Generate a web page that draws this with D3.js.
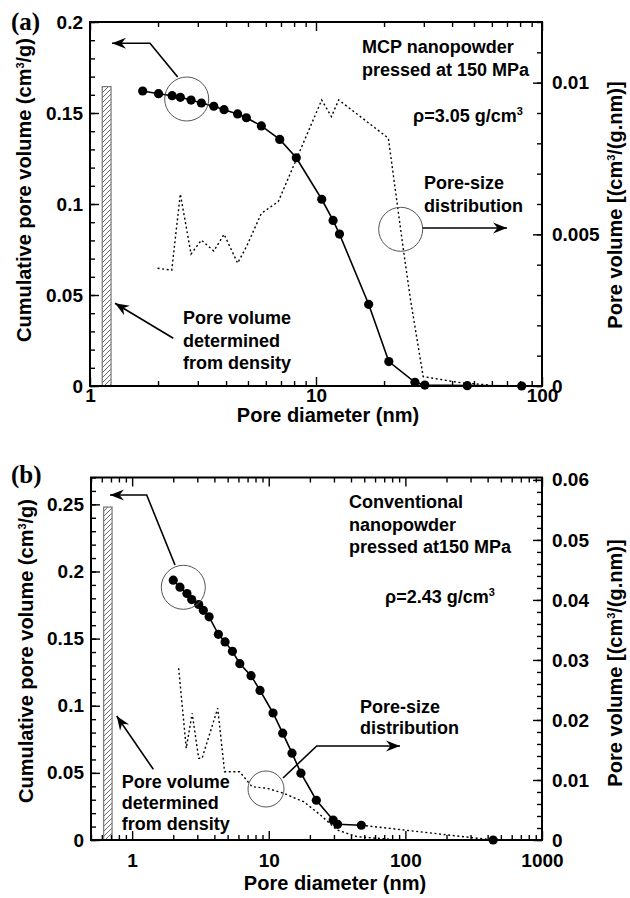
<!DOCTYPE html>
<html><head><meta charset="utf-8">
<script src="https://cdn.jsdelivr.net/npm/d3@7"></script>
<style>
body{margin:0;background:#fff}
svg{display:block}
text{font-family:"Liberation Sans",Arial,Helvetica,sans-serif;font-weight:bold;fill:#000}
.tick text{font-size:19px}
.title{font-size:20px}
.note{font-size:18px}
.plabel{font-family:"Liberation Serif","Times New Roman",serif;font-size:25px}
</style>
</head><body>
<svg id="chart" width="630" height="898"></svg>
<script>
// ---------- Panel (a): MCP nanopowder ----------
const aCumDiameter = [1.71,2.01,2.31,2.51,2.80,3.11,3.53,3.92,4.50,4.92,5.73,6.91,8.18,10.6,11.9,12.7,17.1,21.0,27.4,30.3,46.7,81.3];
const aCumVolume   = [0.1621,0.1606,0.1595,0.1586,0.1571,0.1555,0.1537,0.1518,0.1495,0.1474,0.1429,0.1355,0.1254,0.1026,0.0910,0.0835,0.0449,0.0134,0.0020,0.0005,0.0002,0];
const aPsdDiameter = [1.99,2.30,2.51,2.80,3.11,3.53,3.92,4.50,4.92,5.73,6.81,10.6,11.7,12.6,20.9,24.3,26.2,29.8,43.4,58.9];
const aPsdVolume   = [0.00388,0.00382,0.00633,0.00435,0.00481,0.00445,0.00500,0.00405,0.00459,0.00569,0.00608,0.00943,0.00888,0.00943,0.00817,0.00455,0.00284,0.00031,0.00011,0.00003];
const aDensityBarDiameter = [1.133,1.239];
const aDensityPoreVolume = 0.1645;
const aXTicks = [1,10,100];
const aLeftTicks = [0,0.05,0.1,0.15,0.2];
const aLeftTickLabels = ["0","0.05","0.1","0.15","0.2"];
const aRightTicks = [0,0.005,0.01];
const aRightTickLabels = ["0","0.005","0.01"];

// ---------- Panel (b): Conventional nanopowder ----------
const bCumDiameter = [2.00,2.24,2.52,2.73,3.07,3.32,3.66,4.28,4.79,5.42,6.14,7.42,8.63,10.75,12.65,14.8,17.2,22.3,29.6,31.9,47.6,439];
const bCumVolume   = [0.1935,0.1883,0.1836,0.1791,0.1754,0.1711,0.1662,0.1532,0.1475,0.1405,0.1313,0.1224,0.1114,0.0946,0.0796,0.0647,0.0498,0.0296,0.0149,0.0117,0.0110,0];
const bPsdDiameter = [2.19,2.49,2.75,3.07,3.25,4.23,4.75,6.12,7.55,9.71,12.85,18.0,23.9,31.6,44.3,77.6];
const bPsdVolume   = [0.02862,0.01528,0.02112,0.01362,0.01362,0.02195,0.01138,0.01138,0.00888,0.00862,0.00778,0.00638,0.00417,0.00167,0.00055,0.00012];
const bDensityBarDiameter = [0.619,0.713];
const bDensityPoreVolume = 0.248;
const bXTicks = [1,10,100,1000];
const bLeftTicks = [0,0.05,0.1,0.15,0.2,0.25];
const bLeftTickLabels = ["0","0.05","0.1","0.15","0.2","0.25"];
const bRightTicks = [0,0.01,0.02,0.03,0.04,0.05,0.06];
const bRightTickLabels = ["0","0.01","0.02","0.03","0.04","0.05","0.06"];

const svg = d3.select("#chart");
const defs = svg.append("defs");
const pat = defs.append("pattern").attr("id","hatch").attr("patternUnits","userSpaceOnUse")
  .attr("width",5).attr("height",5);
pat.append("path").attr("d","M-1,1 l2,-2 M0,5 l5,-5 M4,6 l2,-2")
  .attr("stroke","#444").attr("stroke-width",0.8);
defs.append("marker").attr("id","arrow").attr("viewBox","-15 -7 16 14")
  .attr("refX",0).attr("refY",0).attr("markerWidth",16).attr("markerHeight",14)
  .attr("markerUnits","userSpaceOnUse").attr("orient","auto")
  .append("path").attr("d","M0,0 L-14,-5.5 L-9.5,0 L-14,5.5 Z").attr("fill","#000");

// text with optional superscript parts ({sup:"3"})
function richText(g, x, y, parts, cls, transform){
  const t = g.append("text").attr("class", cls);
  if (transform) t.attr("transform", transform).attr("text-anchor","middle");
  else t.attr("x", x).attr("y", y);
  let shifted = false;
  parts.forEach(p=>{
    if (typeof p === "string"){
      const s = t.append("tspan").text(p);
      if (shifted){ s.attr("dy", 7); shifted = false; }
    } else {
      t.append("tspan").attr("font-size", 11).attr("dy", -7).text(p.sup);
      shifted = true;
    }
  });
  return t;
}

function logMinor(domain){
  const out=[];
  const d0=Math.floor(Math.log10(domain[0])), d1=Math.ceil(Math.log10(domain[1]));
  for(let d=d0; d<=d1; d++) for(let k=2;k<=9;k++){const v=k*Math.pow(10,d); if(v>=domain[0]-1e-12 && v<=domain[1]+1e-9) out.push(v);}
  return out;
}

function drawPanel(c){
  const g = svg.append("g");
  const x = d3.scaleLog().domain(c.xDomain).range([c.left, c.right]);
  const yL = d3.scaleLinear().domain(c.yLDomain).range([c.bottom, c.top]);
  const yR = d3.scaleLinear().domain(c.yRDomain).range([c.bottom, c.top]);

  // density bar (hatched)
  g.append("rect").attr("x", x(c.bar[0])).attr("width", x(c.bar[1]) - x(c.bar[0]))
    .attr("y", yL(c.barValue)).attr("height", yL(0) - yL(c.barValue))
    .attr("fill","url(#hatch)").attr("stroke","#777").attr("stroke-width",1.2);

  // pore-size distribution (dotted, right axis)
  const psd = c.psdX.map((d,i)=>[d, c.psdY[i]]);
  g.append("path").attr("d", d3.line().x(d=>x(d[0])).y(d=>yR(d[1]))(psd))
    .attr("fill","none").attr("stroke","#000").attr("stroke-width",1.4).attr("stroke-dasharray","2,2.6");

  // cumulative (solid with markers)
  const cum = c.cumX.map((d,i)=>[d, c.cumY[i]]);
  const line = d3.line().x(d=>x(d[0])).y(d=>yL(d[1]));
  const solidPts = c.lastDotted ? cum.slice(0, cum.length-1) : cum;
  g.append("path").attr("d", line(solidPts)).attr("fill","none").attr("stroke","#000").attr("stroke-width",1.6);
  if (c.lastDotted) g.append("path").attr("d", line(cum.slice(cum.length-2)))
      .attr("fill","none").attr("stroke","#000").attr("stroke-width",1.4).attr("stroke-dasharray","2,2.6");
  g.selectAll("circle.pt").data(cum).join("circle").attr("class","pt")
    .attr("cx", d=>x(d[0])).attr("cy", d=>yL(d[1])).attr("r",4.6).attr("fill","#000");

  // axes
  const xMinor = logMinor(c.xDomain);
  g.append("g").attr("transform",`translate(0,${c.bottom})`)
    .call(d3.axisBottom(x).tickValues(c.xTicks).tickSize(-9).tickPadding(c.xPad).tickFormat(d3.format("d")));
  g.append("g").attr("transform",`translate(0,${c.bottom})`)
    .call(d3.axisBottom(x).tickValues(xMinor).tickSize(-5).tickFormat(""));
  g.append("g").attr("transform",`translate(0,${c.top})`)
    .call(d3.axisTop(x).tickValues(c.xTicks).tickSize(-9).tickFormat(""));
  g.append("g").attr("transform",`translate(0,${c.top})`)
    .call(d3.axisTop(x).tickValues(xMinor).tickSize(-5).tickFormat(""));
  g.append("g").attr("transform",`translate(${c.left},0)`)
    .call(d3.axisLeft(yL).tickValues(c.yLTicks).tickSize(-9).tickPadding(7).tickFormat((d,i)=>c.yLLabels[i]));
  g.append("g").attr("transform",`translate(${c.left},0)`)
    .call(d3.axisLeft(yL).tickValues(d3.range(0, c.yLDomain[1]+1e-9, 0.01)).tickSize(-5).tickFormat(""));
  g.append("g").attr("transform",`translate(${c.right},0)`)
    .call(d3.axisRight(yR).tickValues(c.yRTicks).tickSize(-9).tickPadding(10).tickFormat((d,i)=>c.yRLabels[i]));
  g.append("g").attr("transform",`translate(${c.right},0)`)
    .call(d3.axisRight(yR).tickValues(d3.range(0, c.yRDomain[1]+1e-9, c.yRMinor)).tickSize(-5).tickFormat(""));
  g.selectAll(".domain").remove();
  g.selectAll(".tick line").attr("stroke","#000").attr("stroke-width",1.4);

  // frame
  g.append("rect").attr("x",c.left).attr("y",c.top).attr("width",c.right-c.left).attr("height",c.bottom-c.top)
    .attr("fill","none").attr("stroke","#000").attr("stroke-width",2);

  // titles
  richText(g,0,0,["Cumulative pore volume (cm",{sup:"3"},"/g)"],"title",`translate(${c.lTitle[0]},${c.lTitle[1]}) rotate(-90)`);
  richText(g,0,0,["Pore volume [(cm",{sup:"3"},"/(g.nm)]"],"title",`translate(${c.rTitle[0]},${c.rTitle[1]}) rotate(-90)`);
  g.append("text").attr("class","title").attr("x",c.bTitle[0]).attr("y",c.bTitle[1]).attr("text-anchor","middle").text("Pore diameter (nm)");
  g.append("text").attr("class","plabel").attr("x",c.plabel[0]).attr("y",c.plabel[1]).text(c.panel);

  // notes
  c.notes.forEach(n=>richText(g,n.x,n.y,n.parts,"note"));

  // annotations
  c.circles.forEach(k=>g.append("circle").attr("cx",k[0]).attr("cy",k[1]).attr("r",k[2])
    .attr("fill","none").attr("stroke","#555").attr("stroke-width",1));
  c.arrows.forEach(a=>g.append("path").attr("d", d3.line()(a)).attr("fill","none")
    .attr("stroke","#000").attr("stroke-width",1.6).attr("marker-end","url(#arrow)"));
}

drawPanel({
  panel:"(a)", plabel:[11,30],
  left:90, right:542, top:22, bottom:386,
  xDomain:[1,100], yLDomain:[0,0.2], yRDomain:[0,0.012], yRMinor:0.001,
  xTicks:aXTicks, xPad:2, yLTicks:aLeftTicks, yLLabels:aLeftTickLabels, yRTicks:aRightTicks, yRLabels:aRightTickLabels,
  cumX:aCumDiameter, cumY:aCumVolume, psdX:aPsdDiameter, psdY:aPsdVolume, lastDotted:false,
  bar:aDensityBarDiameter, barValue:aDensityPoreVolume,
  lTitle:[31,190], rTitle:[622,205], bTitle:[328,422],
  notes:[
    {x:362,y:53,parts:["MCP nanopowder"]},
    {x:362,y:76,parts:["pressed at 150 MPa"]},
    {x:413,y:122,parts:["\u03c1=3.05 g/cm",{sup:"3"}]},
    {x:424,y:189,parts:["Pore-size"]},
    {x:424,y:211.5,parts:["distribution"]},
    {x:183,y:324,parts:["Pore volume"]},
    {x:183,y:346.5,parts:["determined"]},
    {x:183,y:368.5,parts:["from density"]}
  ],
  circles:[[186.7,99,22],[400.7,229.3,22]],
  arrows:[
    [[177.7,77],[150,43.3],[112,43.3]],
    [[422.7,228],[507,228]],
    [[173.3,338.3],[115,303.3]]
  ]
});

drawPanel({
  panel:"(b)", plabel:[11,483],
  left:91, right:542, top:477.5, bottom:840,
  xDomain:[0.5,1000], yLDomain:[0,0.27], yRDomain:[0,0.0604], yRMinor:0.002,
  xTicks:bXTicks, xPad:14, yLTicks:bLeftTicks, yLLabels:bLeftTickLabels, yRTicks:bRightTicks, yRLabels:bRightTickLabels,
  cumX:bCumDiameter, cumY:bCumVolume, psdX:bPsdDiameter, psdY:bPsdVolume, lastDotted:true,
  bar:bDensityBarDiameter, barValue:bDensityPoreVolume,
  lTitle:[33,651], rTitle:[622,663], bTitle:[335,890],
  notes:[
    {x:349,y:508,parts:["Conventional"]},
    {x:349,y:531,parts:["nanopowder"]},
    {x:349,y:552.7,parts:["pressed at150 MPa"]},
    {x:385,y:603,parts:["\u03c1=2.43 g/cm",{sup:"3"}]},
    {x:360,y:713,parts:["Pore-size"]},
    {x:360,y:734,parts:["distribution"]},
    {x:121.7,y:787.7,parts:["Pore volume"]},
    {x:121.7,y:809,parts:["determined"]},
    {x:121.7,y:830,parts:["from density"]}
  ],
  circles:[[183.3,587.3,22],[266,789,18]],
  arrows:[
    [[175,565],[146.7,495],[110,495]],
    [[283,778],[316.7,746],[400,746]],
    [[153.3,769.3],[116.7,716]]
  ]
});
</script>
</body></html>
